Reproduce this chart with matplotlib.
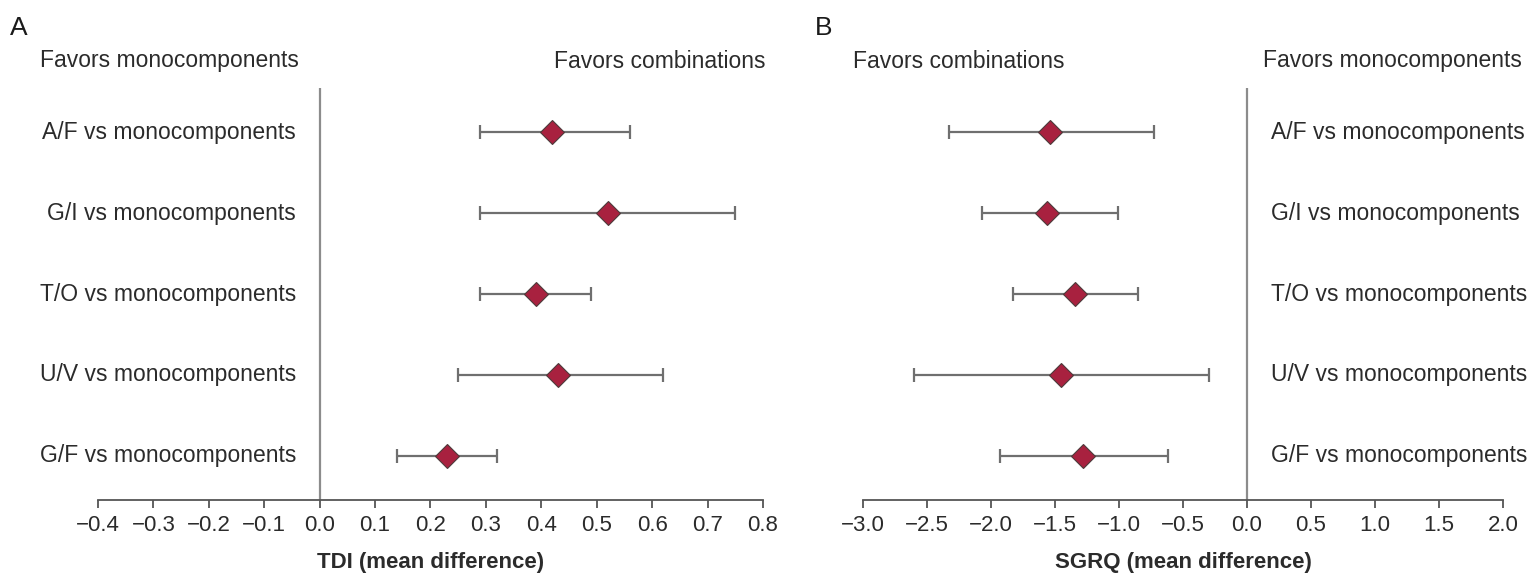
import matplotlib.pyplot as plt

plt.rcParams['font.family'] = ['Liberation Sans', 'DejaVu Sans']

# Comparisons (top to bottom)
comparisons = ['A/F vs monocomponents', 'G/I vs monocomponents', 'T/O vs monocomponents',
               'U/V vs monocomponents', 'G/F vs monocomponents']

# TDI: mean difference and 95% CI
tdi_mean = [0.42, 0.52, 0.39, 0.43, 0.23]
tdi_low = [0.29, 0.29, 0.29, 0.25, 0.14]
tdi_high = [0.56, 0.75, 0.49, 0.62, 0.32]
tdi_ticks = [-0.4, -0.3, -0.2, -0.1, 0.0, 0.1, 0.2, 0.3, 0.4, 0.5, 0.6, 0.7, 0.8]

# SGRQ: mean difference and 95% CI
sgrq_mean = [-1.54, -1.56, -1.34, -1.45, -1.28]
sgrq_low = [-2.33, -2.07, -1.83, -2.60, -1.93]
sgrq_high = [-0.73, -1.01, -0.85, -0.30, -0.62]
sgrq_ticks = [-3.0, -2.5, -2.0, -1.5, -1.0, -0.5, 0.0, 0.5, 1.0, 1.5, 2.0]

W, H = 1529, 579
TXT = '#2b2b2b'


def forest(ax, mean, low, high, ticks, xlabel, lab_x, lab_ha):
    rows = list(range(len(comparisons)))
    xerr = [[m - l for m, l in zip(mean, low)], [h - m for m, h in zip(mean, high)]]
    ax.axvline(0, color='#8c8c8c', lw=1.6, zorder=1)
    ax.errorbar(mean, rows, xerr=xerr, fmt='none', ecolor='#6f6f6f',
                elinewidth=1.6, capsize=5, capthick=1.6, zorder=2)
    ax.plot(mean, rows, 'D', ms=12.5, mfc='#a8213f', mec='#4d3b3b', mew=0.8, zorder=3)
    ax.set_xlim(ticks[0], ticks[-1])
    ax.set_ylim(4.55, -0.55)
    ax.set_xticks(ticks)
    ax.set_xticklabels([f'{t:.1f}'.replace('-', '\u2212') for t in ticks])
    ax.set_yticks([])
    for s in ['left', 'right', 'top']:
        ax.spines[s].set_visible(False)
    ax.spines['bottom'].set_color('#555555')
    ax.spines['bottom'].set_linewidth(1.3)
    ax.tick_params(axis='x', length=6, width=1.3, color='#555555',
                   labelsize=16, labelcolor=TXT, pad=5)
    ax.set_xlabel(xlabel, fontsize=16, fontweight='bold', color=TXT, labelpad=11)
    for r, name in zip(rows, comparisons):
        ax.text(lab_x, r, name, transform=ax.get_yaxis_transform(),
                ha=lab_ha, va='center', fontsize=16.5, color=TXT)


fig = plt.figure(figsize=(W / 100, H / 100), dpi=100)

axA = fig.add_axes([98 / W, 79 / H, 665 / W, 412 / H])
forest(axA, tdi_mean, tdi_low, tdi_high, tdi_ticks, 'TDI (mean difference)',
       (296 - 98) / 665, 'right')

axB = fig.add_axes([863 / W, 79 / H, 640 / W, 412 / H])
forest(axB, sgrq_mean, sgrq_low, sgrq_high, sgrq_ticks, 'SGRQ (mean difference)',
       (1271 - 863) / 640, 'left')

# panel letters and direction headers
fig.text(10 / W, 1 - 28 / H, 'A', fontsize=19, color='#1a1a1a', va='center')
fig.text(815 / W, 1 - 28 / H, 'B', fontsize=19, color='#1a1a1a', va='center')
fig.text(40 / W, 1 - 61 / H, 'Favors monocomponents', fontsize=16.5, color=TXT, va='center')
fig.text(765 / W, 1 - 61 / H, 'Favors combinations', fontsize=16.5, color=TXT, va='center', ha='right')
fig.text(853 / W, 1 - 61 / H, 'Favors combinations', fontsize=16.5, color=TXT, va='center')
fig.text(1522 / W, 1 - 61 / H, 'Favors monocomponents', fontsize=16.5, color=TXT, va='center', ha='right')

fig.savefig('out.png', dpi=100)
